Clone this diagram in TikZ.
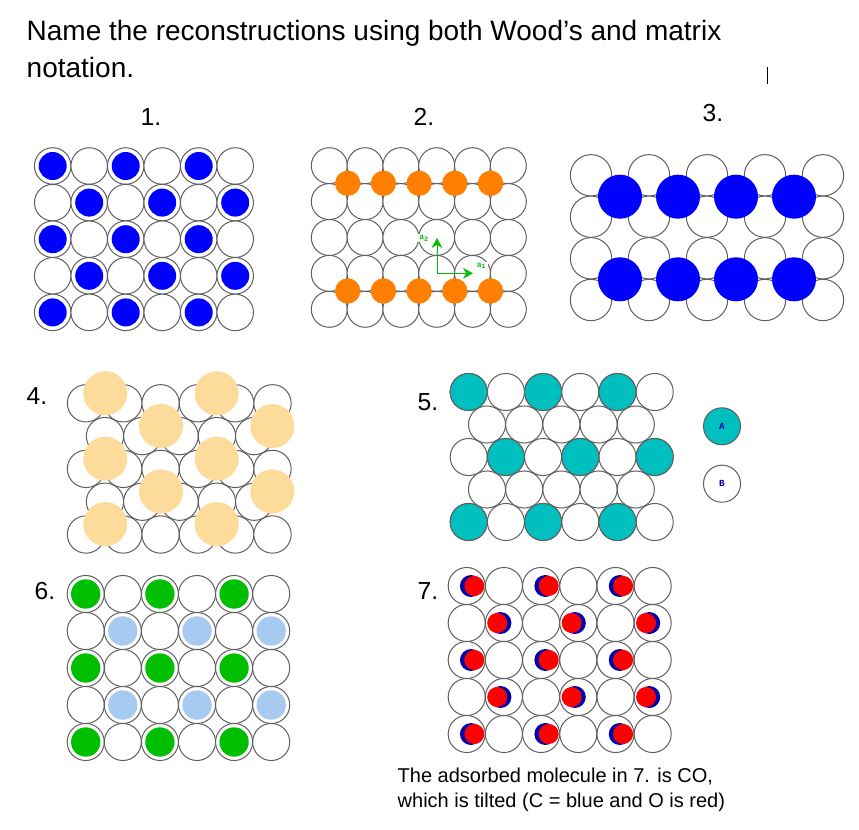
\documentclass[tikz,border=0pt]{standalone}
\usepackage{fontspec}
\setmainfont{Liberation Sans}
\setmonofont{Liberation Mono}
\usetikzlibrary{arrows.meta}
\definecolor{orangeAd}{RGB}{255,128,0}
\definecolor{goldAd}{RGB}{253,219,155}
\definecolor{tealAd}{RGB}{0,191,191}
\definecolor{greenAd}{RGB}{0,191,0}
\definecolor{skyAd}{RGB}{166,202,240}
\definecolor{darkAd}{RGB}{0,0,175}
\definecolor{rimGray}{RGB}{95,95,95}

\begin{document}
\begin{tikzpicture}[x=.75pt,y=-.75pt,
	atom node/.style={circle,draw=rimGray,fill=white,line width=.75pt,inner sep=0pt,minimum size=27.4pt},
	big atom node/.style={atom node,minimum size=31pt},
	ad node/.style={circle,inner sep=0pt,minimum size=#1},
	head label/.style={font=\fontsize{18.5}{20}\selectfont},
	vec label/.style={font=\ttfamily\bfseries\fontsize{6}{6}\selectfont,text=greenAd,fill=white,inner sep=1pt},
	key label/.style={font=\ttfamily\bfseries\fontsize{7}{7}\selectfont,text=darkAd},
	vec/.style={-{Stealth[length=7.5pt,width=8pt]},draw=greenAd,line width=.6pt}
	]
	
	\useasboundingbox (0,0) rectangle (859,830);
	
	\node[anchor=west,align=left,font=\fontsize{21}{27.7}\selectfont] (title) at (22,49) {Name the reconstructions using both Wood's and matrix\\notation.};
	\coordinate (barTop) at (767,67);
	\coordinate (barEnd) at (767,84);
	\draw[line width=.75pt] (barTop) -- (barEnd);
	
	\node[head label] (h1) at (151,117) {1.};
	\node[head label] (h2) at (424,117) {2.};
	\node[head label] (h3) at (713,113) {3.};
	\node[head label] (h4) at (37,396) {4.};
	\node[head label] (h5) at (428,402) {5.};
	\node[head label] (h6) at (45,591) {6.};
	\node[head label] (h7) at (428,591) {7.};
	
	% 1.
	\foreach \row in {0,...,4} {
		\foreach \col in {0,...,5} {
			\node[atom node] (p1-\row-\col) at ({52.7+36.5*\col},{166+36.6*\row}) {};
		}
	}
	\foreach \row/\col in {0/0,0/2,0/4,2/0,2/2,2/4,4/0,4/2,4/4,1/1,1/3,1/5,3/1,3/3,3/5} {
		\node[ad node=21pt,fill=blue] (q1-\row-\col) at (p1-\row-\col) {};
	}
	
	% 2.
	\foreach \row in {0,...,4} {
		\foreach \col in {0,...,5} {
			\node[atom node,minimum size=27pt] (p2-\row-\col) at ({329.3+35.8*\col},{165.7+35.9*\row}) {};
		}
	}
	\foreach \col in {0,...,4} {
		\node[ad node=19pt,fill=orangeAd] (q2-t\col) at ({347.7+35.7*\col},183.3) {};
		\node[ad node=19pt,fill=orangeAd] (q2-b\col) at ({347.7+35.7*\col},291) {};
	}
	\node[vec label] (a2) at (424,238) {a\textsubscript{2}};
	\node[vec label] (a1) at (481.5,266) {a\textsubscript{1}};
	\coordinate (vecO) at (437,273.3);
	\coordinate (vecU) at (437,238);
	\coordinate (vecR) at (473,273.3);
	\draw[vec] (vecO) -- (vecU);
	\draw[vec] (vecO) -- (vecR);
	
	% 3.
	\foreach \y [count=\row] in {175.3,216.7,258.3,300} {
		\foreach \col in {0,...,4} {
			\node[big atom node] (p3-\row-\col) at ({591+58*\col},\y) {};
		}
	}
	\foreach \col in {0,...,3} {
		\node[ad node=33pt,fill=blue] (q3-t\col) at ({620+58*\col},196.7) {};
		\node[ad node=33pt,fill=blue] (q3-b\col) at ({620+58*\col},279.3) {};
	}
	
	% 4.
	\foreach \row in {1,3} {
		\foreach \col in {0,...,4} {
			\node[atom node,minimum size=28pt] (p4-\row-\col) at ({105+37.3*\col},{403.3+32.8*\row}) {};
		}
	}
	\foreach \row in {0,2,4} {
		\foreach \col in {0,...,5} {
			\node[atom node,minimum size=28pt] (p4-\row-\col) at ({86+37.3*\col},{403.3+32.8*\row}) {};
		}
	}
	\foreach \row in {0,2,4} {
		\foreach \col in {0,1} {
			\node[ad node=33pt,fill=goldAd] (q4-\row-\col) at ({105.3+111.4*\col},{393.3+32.7*\row}) {};
		}
	}
	\foreach \row in {1,3} {
		\foreach \col in {0,1} {
			\node[ad node=33pt,fill=goldAd] (q4-\row-\col) at ({161+111.3*\col},{393.3+32.7*\row}) {};
		}
	}
	
	% 5.
	\foreach \row in {1,3} {
		\foreach \col in {0,...,4} {
			\node[atom node,minimum size=27.8pt] (p5-\row-\col) at ({487+37.2*\col},{392+32.5*\row}) {};
		}
	}
	\foreach \row in {0,2,4} {
		\foreach \col in {0,...,5} {
			\node[atom node,minimum size=27.8pt] (p5-\row-\col) at ({468.7+37.2*\col},{392+32.5*\row}) {};
		}
	}
	\foreach \row/\col in {0/0,0/2,0/4,2/1,2/3,2/5,4/0,4/2,4/4} {
		\node[atom node,minimum size=27.8pt,fill=tealAd] (q5-\row-\col) at (p5-\row-\col) {};
	}
	\node[atom node,minimum size=27.8pt,fill=tealAd,key label] (keyA) at (722,426.3) {A};
	\node[atom node,minimum size=27.8pt,key label] (keyB) at (722,483.7) {B};
	
	% 6.
	\foreach \row in {0,...,4} {
		\foreach \col in {0,...,5} {
			\node[atom node,minimum size=27.8pt] (p6-\row-\col) at ({85.7+37.1*\col},{594+37*\row}) {};
		}
	}
	\foreach \row/\col in {0/0,0/2,0/4,2/0,2/2,2/4,4/0,4/2,4/4} {
		\node[ad node=22pt,fill=greenAd] (q6-\row-\col) at (p6-\row-\col) {};
	}
	\foreach \row/\col in {1/1,1/3,1/5,3/1,3/3,3/5} {
		\node[ad node=22pt,fill=skyAd] (q6-\row-\col) at (p6-\row-\col) {};
	}
	
	% 7.
	\foreach \row in {0,...,4} {
		\foreach \col in {0,...,5} {
			\node[atom node,minimum size=27.8pt] (p7-\row-\col) at ({466.7+37.2*\col},{586+37*\row}) {};
		}
	}
	\foreach \row/\col in {0/0,0/2,0/4,2/0,2/2,2/4,4/0,4/2,4/4} {
		\node[ad node=16.5pt,fill=darkAd] (c7-\row-\col) at ([xshift=3.2pt]p7-\row-\col.center) {};
		\node[ad node=15pt,fill=red] (o7-\row-\col) at ([xshift=5.7pt]p7-\row-\col.center) {};
	}
	\foreach \row/\col in {1/1,1/3,1/5,3/1,3/3,3/5} {
		\node[ad node=16.5pt,fill=darkAd] (c7-\row-\col) at ([xshift=-2.6pt]p7-\row-\col.center) {};
		\node[ad node=15pt,fill=red] (o7-\row-\col) at ([xshift=-5pt]p7-\row-\col.center) {};
	}
	
	\node[anchor=west,align=left,font=\fontsize{15}{18.7}\selectfont] (note) at (393,790) {The adsorbed molecule in 7. is CO,\\which is tilted (C = blue and O is red)};
\end{tikzpicture}
\end{document}
